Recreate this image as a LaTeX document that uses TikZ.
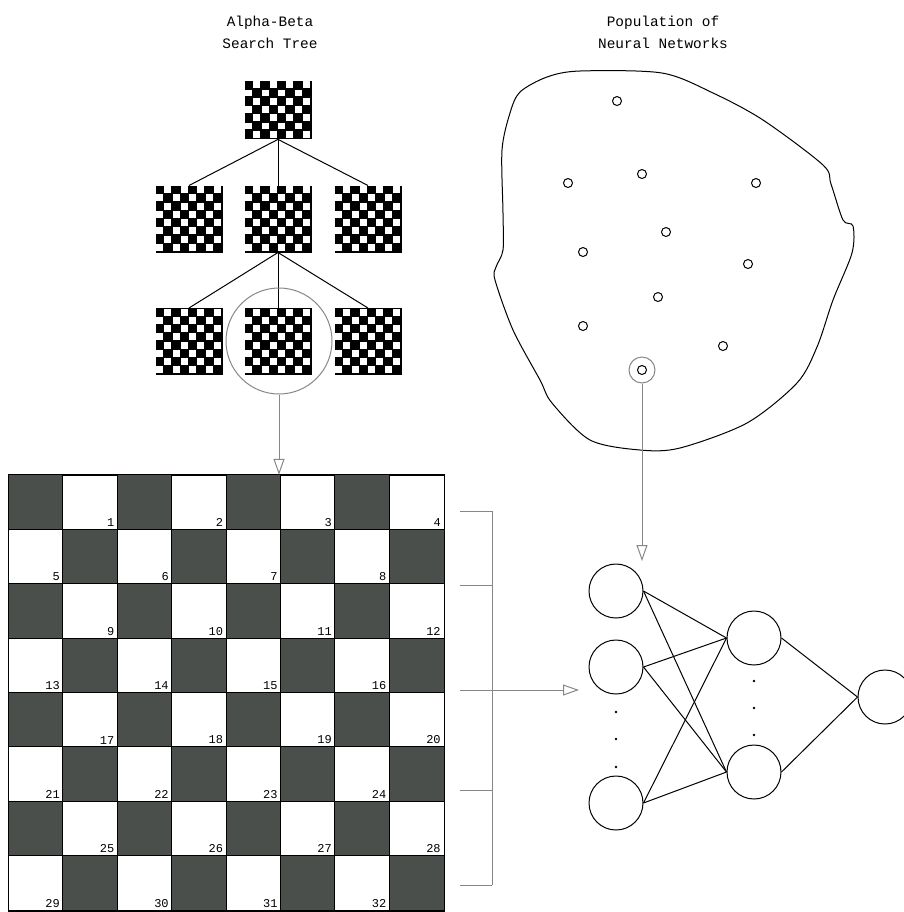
\documentclass[tikz,border=0pt]{standalone}
\usepackage{fontspec}
\setmonofont{Liberation Mono}
\usetikzlibrary{arrows.meta,calc,positioning}
\definecolor{boarddark}{RGB}{75,79,76}
\definecolor{linkgray}{RGB}{135,135,135}
\tikzset{every picture/.style={line width=0.5pt}}
\tikzset{
  miniboard/.style={draw, fill=black, inner sep=0pt, minimum width=33pt},
  title/.style={align=center, font=\ttfamily\fontsize{7.2}{11}\selectfont},
  cellnum/.style={anchor=south east, inner sep=1.2pt, font=\ttfamily\fontsize{6}{6}\selectfont},
  unit/.style={draw, circle, inner sep=0pt, minimum size=27pt},
  netdot/.style={draw, circle, inner sep=0pt, minimum size=4.5pt},
  graylink/.style={draw=linkgray, -{Triangle[open, length=8pt, width=5.5pt]}}
}
% small chess position: name, centre, number of rows
\newcommand{\minichess}[3]{%
  \node[miniboard, minimum height=#3*4.125pt] (#1) at (#2) {};
  \foreach \row in {1,...,#3} {
    \foreach \col in {1,...,8} {
      \pgfmathtruncatemacro{\odd}{mod(\row+\col,2)}
      \ifnum\odd=1
        \fill[white] ($(#1.north west)+(\col*8.25-7.6,\row*8.25-7.6)$) rectangle +(6.9,6.9);
      \fi
    }
  }
}

\begin{document}
\begin{tikzpicture}[x=0.5pt,y=-0.5pt]
    \useasboundingbox (0,0) rectangle (904,912);

    % Titles
    \node[title] (treetitle) at (270,32) {Alpha-Beta\\Search Tree};
    \node[title] (poptitle) at (663,32) {Population of\\Neural Networks};

    % Search tree
    \minichess{root}{278,110}{7}
    \minichess{mid1}{189,219}{8}
    \minichess{mid2}{278,219}{8}
    \minichess{mid3}{368,219}{8}
    \minichess{low1}{189,341.5}{8}
    \minichess{low2}{278,341.5}{8}
    \minichess{low3}{368,341.5}{8}
    \draw (root.south) -- (mid1.north);
    \draw (root.south) -- (mid2.north);
    \draw (root.south) -- (mid3.north);
    \draw (mid2.south) -- (low1.north);
    \draw (mid2.south) -- (low2.north);
    \draw (mid2.south) -- (low3.north);

    % Chosen position
    \node[draw=linkgray, circle, inner sep=0pt, minimum size=53pt] (focus) at (279,341) {};

    % Full board with numbered squares
    \node[draw, inner sep=0pt, minimum size=217.6pt] (board) at (226.5,693) {};
    \foreach \row in {0,...,7} {
      \foreach \col in {0,...,7} {
        \pgfmathtruncatemacro{\odd}{mod(\row+\col,2)}
        \pgfmathtruncatemacro{\num}{\row*4+floor(\col/2)+1}
        \ifnum\odd=0
          \fill[boarddark] ($(board.north west)+(\col*54.4,\row*54.4)$) rectangle +(54.4,54.4);
        \else
          \node[cellnum] at ($(board.north west)+(\col*54.4+54.4,\row*54.4+54.4)$) {\num};
        \fi
      }
    }
    \foreach \k in {1,...,7} {
      \draw ($(board.north west)+(\k*54.4,0)$) -- ($(board.south west)+(\k*54.4,0)$);
      \draw ($(board.north west)+(0,\k*54.4)$) -- ($(board.north east)+(0,\k*54.4)$);
    }
    \draw (board.north west) rectangle (board.south east);
    \coordinate (boardtop) at (focus.south |- board.north);
    \draw[graylink] (focus.south) -- (boardtop);

    % Bracket over the input squares
    \coordinate (br1) at (492,511);
    \coordinate (br2) at (492,885);
    \coordinate (brmid) at (460,690);
    \coordinate (nettip) at (579,690);
    \draw[linkgray] (br1) -- (br2);
    \foreach \y in {511,585,790,885}
      \draw[linkgray] (460,\y) -- (492,\y);
    \draw[graylink] (brmid) -- (nettip);

    % Population
    \draw plot[smooth cycle, tension=0.5] coordinates {
      (520,92) (547,77) (580,71) (662,73) (713,93) (763,120) (823,165)
      (831,184) (843,220) (853,226) (852,253) (833,300) (817,347)
      (797,383) (747,423) (680,448) (640,450) (590,440) (552,403)
      (540,380) (513,330) (495,280) (496,267) (503,250) (503,213)
      (502,150) (510,113)};
    \node[netdot] (n1) at (617,101) {};
    \node[netdot] (n2) at (568,183) {};
    \node[netdot] (n3) at (642,174) {};
    \node[netdot] (n4) at (756,183) {};
    \node[netdot] (n5) at (666,232) {};
    \node[netdot] (n6) at (583,252) {};
    \node[netdot] (n7) at (748,264) {};
    \node[netdot] (n8) at (658,297) {};
    \node[netdot] (n9) at (583,326) {};
    \node[netdot] (n10) at (723,346) {};
    \node[netdot] (n11) at (642,370) {};
    \node[draw=linkgray, circle, inner sep=0pt, minimum size=13pt] (pick) at (n11) {};
    \coordinate (netdrop) at (642,561);
    \draw[graylink] (pick.south) -- (netdrop);

    % Neural network
    \node[unit] (in1) at (616,591) {};
    \node[unit] (in2) at (616,667) {};
    \node[unit] (in3) at (616,803) {};
    \node[unit] (hid1) at (754,638) {};
    \node[unit] (hid2) at (754,772) {};
    \node[unit] (out) at (885,697) {};
    \foreach \i in {in1,in2,in3}
      \foreach \h in {hid1,hid2}
        \draw (\i.east) -- (\h.west);
    \draw (hid1.east) -- (out.west);
    \draw (hid2.east) -- (out.west);
    \foreach \y in {712,739,767}
      \fill (616,\y) circle (1.4);
    \foreach \y in {681,708,735}
      \fill (754,\y) circle (1.4);
\end{tikzpicture}
\end{document}
